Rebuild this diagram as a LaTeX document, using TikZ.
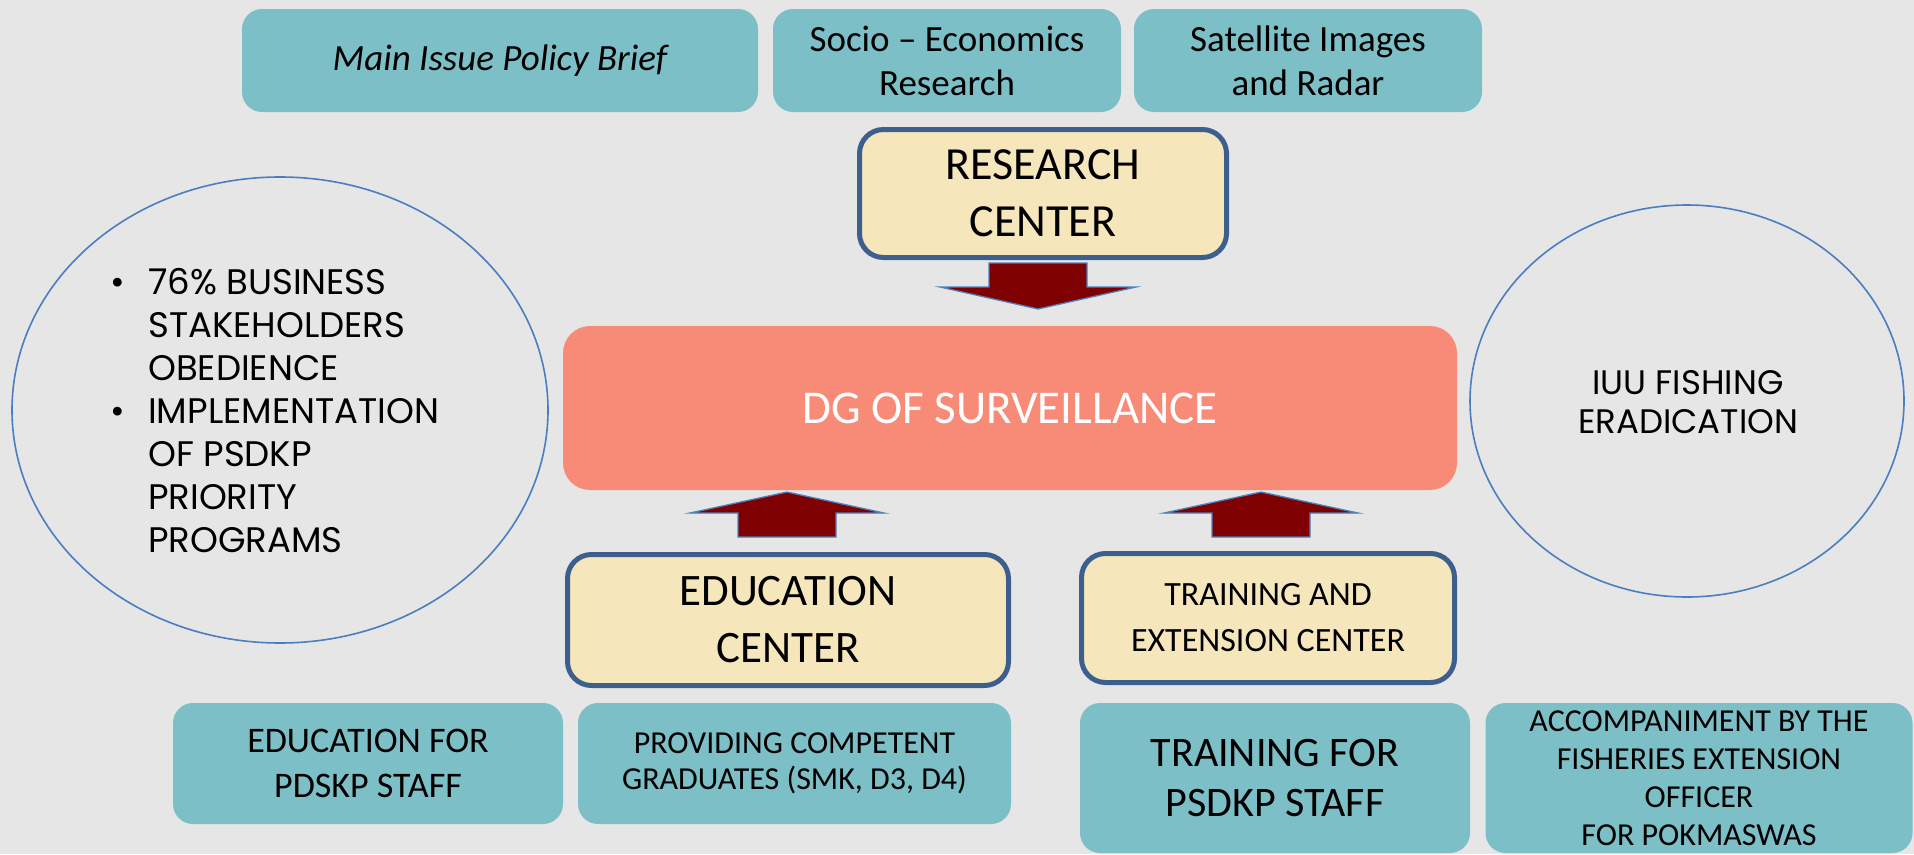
\documentclass[tikz,border=0pt]{standalone}
\usepackage{fontspec}
\setmainfont{Carlito}
\newfontfamily\gothic{Poppins}
\usetikzlibrary{calc,shapes.geometric}
\definecolor{bgc}{HTML}{E6E6E6}
\definecolor{tealc}{HTML}{7DBFC7}
\definecolor{beigec}{HTML}{F6E6BC}
\definecolor{bordblue}{HTML}{3C5F8E}
\definecolor{salmonc}{HTML}{F88B77}
\definecolor{maroonc}{HTML}{7F0000}
\definecolor{elblue}{HTML}{4A7EC0}
\definecolor{arrblue}{HTML}{4F81BD}
\begin{document}
\begin{tikzpicture}[x=1pt,y=-1pt,
  tealbox/.style={fill=tealc, rounded corners=20pt, inner sep=0pt, outer sep=0pt, align=center},
  centerbox/.style={fill=beigec, draw=bordblue, line width=5pt, rounded corners=24pt, inner sep=0pt, outer sep=0pt, align=center},
  blockarr/.style={fill=maroonc, draw=arrblue, line width=1.3pt, line join=miter},
  oval/.style={ellipse, draw=elblue, line width=1.6pt, inner sep=0pt, outer sep=0pt},
  ovaltext/.style={inner sep=0pt, text=black},
]
\fill[bgc] (0,0) rectangle (1914,854);
\useasboundingbox (0,0) rectangle (1914,854);

% top row
\node[tealbox, minimum width=516, minimum height=103, font=\fontsize{37}{44}\selectfont\itshape] (mi) at (500,60.5) {Main Issue Policy Brief};
\node[tealbox, minimum width=348, minimum height=103, font=\fontsize{37}{44}\selectfont] (se) at (947,60.5) {Socio -- Economics\\Research};
\node[tealbox, minimum width=348, minimum height=103, font=\fontsize{37}{44}\selectfont] (si) at (1308,60.5) {Satellite Images\\and Radar};

% centers
\node[centerbox, minimum width=367, minimum height=128, font=\fontsize{46}{57}\selectfont] (res) at (1043,193.5) {RESEARCH\\CENTER};
\node[fill=salmonc, rounded corners=27pt, inner sep=0pt, outer sep=0pt, minimum width=894, minimum height=164, text=white, font=\fontsize{47}{56}\selectfont] (dg) at (1010,408) {DG OF SURVEILLANCE};
\node[centerbox, minimum width=441, minimum height=131, font=\fontsize{45}{57}\selectfont] (edc) at (788,620) {EDUCATION\\CENTER};
\node[centerbox, minimum width=373, minimum height=129, font=\fontsize{34}{46}\selectfont] (trc) at (1268,618) {TRAINING AND\\EXTENSION CENTER};

% bottom row
\node[tealbox, minimum width=390, minimum height=121, font=\fontsize{36}{45}\selectfont] (ef) at (368,763.5) {EDUCATION FOR\\PDSKP STAFF};
\node[tealbox, minimum width=433, minimum height=121, font=\fontsize{32}{36}\selectfont] (pc) at (794.5,763.5) {PROVIDING COMPETENT\\GRADUATES (SMK, D3, D4)};
\node[tealbox, minimum width=390, minimum height=150, font=\fontsize{42}{50}\selectfont] (tf) at (1275,778) {TRAINING FOR\\PSDKP STAFF};
\node[tealbox, minimum width=427, minimum height=150, font=\fontsize{32}{38}\selectfont] (acc) at (1699,778) {ACCOMPANIMENT BY THE\\FISHERIES EXTENSION\\OFFICER\\FOR POKMASWAS};

% ovals
\node[oval, minimum width=536, minimum height=466] (le) at (280,410) {};
\node[oval, minimum width=434, minimum height=392] (re) at (1687,401) {};
\node[ovaltext, anchor=west, font=\gothic\fontsize{35.5}{43}\selectfont] (lt) at ($(le.center)+(-170,5)$)
  {\begin{tabular}{@{}p{38pt}@{}l@{}}\textbullet & 76\% BUSINESS\\ & STAKEHOLDERS\\ & OBEDIENCE\\ \textbullet & IMPLEMENTATION\\ & OF PSDKP\\ & PRIORITY\\ & PROGRAMS\end{tabular}};
\node[ovaltext, align=center, font=\gothic\fontsize{34}{39}\selectfont] (rt) at ($(re.center)+(1,1)$) {IUU FISHING\\ERADICATION};

% block arrows
\coordinate (d1) at ($(res.south)+(-5,51.5)$);
\draw[blockarr] (d1) -- ++(-98,-22) -- ++(49,0) -- ++(0,-24) -- ++(98,0) -- ++(0,24) -- ++(49,0) -- cycle;
\coordinate (u1) at ($(edc.north |- dg.south)+(-1,2)$);
\draw[blockarr] (u1) -- ++(97,21) -- ++(-48,0) -- ++(0,24) -- ++(-98,0) -- ++(0,-24) -- ++(-48,0) -- cycle;
\coordinate (u2) at ($(trc.north |- dg.south)+(-7,2)$);
\draw[blockarr] (u2) -- ++(97,21) -- ++(-48,0) -- ++(0,24) -- ++(-98,0) -- ++(0,-24) -- ++(-48,0) -- cycle;
\end{tikzpicture}
\end{document}
